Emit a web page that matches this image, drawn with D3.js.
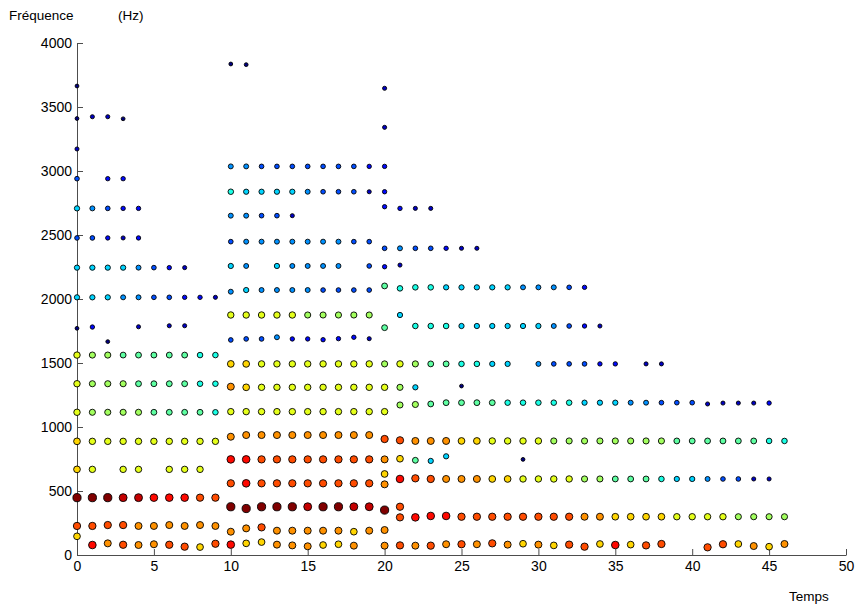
<!DOCTYPE html>
<html lang="fr">
<head>
<meta charset="UTF-8">
<title>Partiels : fréquence en fonction du temps</title>
<script src="https://d3js.org/d3.v7.min.js"></script>
<style>
  body { margin: 0; background: #fff; font-family: "Liberation Sans", Arial, sans-serif; }
  .axis text { font-size: 14px; fill: #000; font-family: "Liberation Sans", Arial, sans-serif; }
  .axis path, .axis line { stroke: #4d4d4d; }
  .label { font-size: 13.5px; fill: #000; }
</style>
</head>
<body>
<svg width="858" height="606"></svg>
<script>
// tick labels
const xTicks = [0, 5, 10, 15, 20, 25, 30, 35, 40, 45, 50];
const yTicks = [0, 500, 1000, 1500, 2000, 2500, 3000, 3500, 4000];

// one entry per partial: first frame, frequency (Hz, one value or one per frame),
// amplitude level per frame (0 = weak ... 15 = strong), null = no peak in that frame
const partialStart = [
  0, 0, 0, 0, 0, 0, 0, 0, 0, 2, 0, 0, 0, 0, 0, 0, 0, 0, 1,
  10, 10, 10, 10, 10, 10, 10, 10, 10, 10, 10, 25, 10, 10, 10, 29, 10, 20, 10, 10, 10,
  20, 20, 20, 20, 20, 20, 21, 21, 21
];

const partialFreq = [
  3664,
  [3410, 3424, 3424, 3408],
  3172,
  2940,
  2708,
  2477,
  2245,
  2013,
  [1771, 1781, null, null, 1783, null, 1791, 1791],
  1667,
  1562,
  1338,
  1115,
  888,
  669,
  448,
  [227, 227, 234, 234, 227, 227, 234, 227, 234, 227],
  146,
  [78, 91, 80, 78, 84, 80, 65, 62, 88],
  // from frame 10
  [3836, 3831],
  3036,
  2838,
  2651,
  2448,
  [2258, 2258, null, 2258, 2258, 2258, 2258, 2258, null, 2258, 2252, 2265],
  [2057, 2070, 2070, 2070, 2070, 2070, 2070, 2070, 2070, 2070],
  1875,
  [1680, 1688, 1688, 1701, 1688, 1688, 1682, 1690, 1701, 1690],
  1493,
  [1315, 1310, 1310, 1310, 1310, 1310, 1310, 1310, 1310, 1310, 1310, 1310, 1310],
  1320,
  1120,
  [924, 937, 937, 937, 937, 937, 937, 937, 937, 937, 906, 896,
   891, 891, 891, 891, 891, 891, 891, 891, 891, 891, 891, 891, 891,
   891, 891, 891, 891, 891, 891, 891, 891, 891, 891, 891, 891],
  [747, 747, 747, 747, 747, 747, 747, 747, 747, 747, 747, 752, 740, 735, 771],
  747,
  [560, 560, 560, 560, 560, 560, 560, 560, 560, 560, 552],
  633,
  [377, 363, 377, 377, 377, 377, 377, 377, 377, 377, 351, 377],
  [182, 208, 216, 190, 190, 190, 190, 190, 182, 190, 195],
  [81, 91, 101, 81, 75, 68, 78, 84, 73, null, 73, 75, 73, 73, 84, 84, 84, 91, 81, 88,
   81, 75, 81, 65, 86, 78, 81, 75, 86, null, null, 60, 84, 86, 70, 65, 86],
  // from frame 20
  3646,
  3341,
  [2721, 2708, 2708, 2708],
  2396,
  [2102, 2083, 2091, 2091, 2091, 2091, 2091, 2091, 2091, 2091, 2091, 2091, 2091, 2091],
  [1776, null, 1789, 1789, 1789, 1789, 1789, 1789, 1789, 1789, 1789, 1789, 1789, 1789, 1789],
  [1172, 1176, 1180, 1190, 1190, 1190, 1190, 1190, 1190, 1190, 1190, 1190, 1190,
   1190, 1190, 1190, 1190, 1190, 1190, 1190, 1180, 1187, 1187, 1187, 1187],
  [594, 599, 594, 594, 594, 594, 594, 594, 594, 594, 594, 594, 594,
   594, 594, 594, 594, 594, 594, 594, 594, 594, 594, 594, 594],
  [294, 294, 305, 305, 299, 299, 299, 299, 299, 299, 299, 299, 299,
   299, 299, 299, 299, 299, 299, 299, 299, 299, 299, 299, 299, 299]
];

const partialAmp = [
  [0],
  [0, 1, 1, 0],
  [1],
  [3, null, 2, 2],
  [5, 4, 3, 2, 2],
  [3, 3, 2, 1, 2],
  [5, 5, 5, 5, 4, 3, 2, 1],
  [5, 5, 5, 4, 4, 3, 3, 2, 2, 1],
  [0, 2, null, null, 1, null, 1, 1],
  [0],
  [9, 8, 8, 7, 7, 7, 7, 7, 6, 6],
  [9, 8, 8, 8, 7, 7, 7, 7, 6, 6],
  [9, 8, 8, 8, 8, 7, 7, 7, 7, 6],
  [10, 9, 9, 9, 9, 9, 9, 9, 9, 9],
  [10, 9, null, 9, 9, null, 9, 9, 9],
  [15, 15, 15, 14, 14, 13, 13, 13, 12, 12],
  [12, 12, 12, 12, 11, 11, 11, 11, 11, 11],
  [10],
  [13, 11, 12, 11, 11, 12, 12, 10, 12],
  // from frame 10
  [0, 0],
  [4, 4, 3, 3, 3, 3, 3, 3, 3, 2, 2],
  [6, 5, 5, 5, 5, 4, 3, 3, 3, 1, 2],
  [4, 4, 3, 3, 1],
  [3, 4, 4, 4, 4, 4, 4, 4, 3, 3],
  [5, 4, null, 5, 4, 4, 4, 4, null, 3, 2, 1],
  [4, 5, 4, 4, 4, 4, 3, 3, 3, 3],
  [9, 9, 9, 9, 9, 8, 8, 8, 8, 8, null, 5],
  [3, 3, 3, 4, 2, 2, 2, 2, 2, 1],
  [10, 10, 9, 9, 9, 9, 9, 9, 9, 9, 8, 9, 8, 7, 7, 6, 6, 5, 5, null,
   4, 3, 3, 3, 2, 2, null, 1, 1],
  [11, 10, 9, 9, 9, 9, 9, 9, 9, 9, 9, 8, 5],
  [0],
  [9, 9, 9, 9, 9, 9, 9, 9, 9, 9, 9],
  [11, 11, 11, 11, 11, 11, 11, 11, 11, 11, 12, 12, 11, 11, 11, 10, 10, 9, 9, 9,
   9, 8, 8, 8, 8, 8, 8, 8, 8, 7, 7, 7, 7, 7, 7, 6, 6],
  [13, 13, 12, 12, 12, 12, 12, 12, 12, 12, 11, 10, 7, 5, 5],
  [0],
  [12, 13, 12, 12, 12, 12, 12, 12, 12, 12, 11],
  [10],
  [15, 15, 15, 15, 15, 14, 15, 15, 14, 14, 15, 12],
  [11, 11, 12, 11, 11, 11, 11, 11, 10, 11, 11],
  [13, 10, 10, 11, 11, 11, 10, 10, 11, null, 11, 12, 11, 12, 11, 12, 11, 12, 11, 10,
   11, 10, 12, 12, 10, 13, 10, 12, 12, null, null, 12, 12, 10, 11, 10, 11],
  // from frame 20
  [1],
  [1],
  [2, 2, 1, 1],
  [3, 4, 3, 3, 2, 1, 1],
  [7, 6, 6, 6, 5, 5, 5, 5, 5, 4, 4, 4, 3, 2],
  [7, null, 6, 6, 6, 5, 5, 5, 5, 5, 5, 4, 3, 2, 1],
  [8, 8, 7, 7, 7, 7, 7, 6, 6, 6, 6, 6, 5, 5, 5, 4, 4, 3, 3, 3, 1, 1, 1, 1, 2],
  [13, 12, 12, 11, 11, 11, 10, 10, 9, 9, 9, 9, 8, 8, 7, 7, 7, 6, 5, 5, 4, 3, 3, 1, 1],
  [12, 13, 13, 13, 12, 12, 12, 12, 12, 12, 12, 12, 11, 11, 10, 10, 10, 10, 9, 9,
   9, 9, 8, 8, 8, 8]
];

const svg = d3.select("svg"),
      margin = {top: 43, right: 12, bottom: 51, left: 77},
      width = +svg.attr("width") - margin.left - margin.right,
      height = +svg.attr("height") - margin.top - margin.bottom;

const g = svg.append("g").attr("transform", `translate(${margin.left},${margin.top})`);

const x = d3.scaleLinear().domain([0, 50]).range([0, width]);
const y = d3.scaleLinear().domain([0, 4000]).range([height, 0]);

// jet colormap on the amplitude level
const jet = d3.scaleLinear()
  .domain([0, 0.125, 0.375, 0.625, 0.875, 1])
  .range(["#000080", "#0000ff", "#00ffff", "#ffff00", "#ff0000", "#800000"]);
const color = d3.scaleLinear().domain([0, 15]).range([0, 1]);
const radius = d3.scaleLinear().domain([0, 15]).range([1.9, 4.1]);

const points = [];
partialStart.forEach((t0, i) => {
  const f = partialFreq[i];
  partialAmp[i].forEach((a, j) => {
    if (a === null) return;
    points.push({t: t0 + j, f: Array.isArray(f) ? f[j] : f, a: a});
  });
});

g.append("g")
  .attr("class", "axis")
  .attr("transform", `translate(0,${height})`)
  .call(d3.axisBottom(x).tickValues(xTicks).tickFormat(d3.format("d"))
    .tickSizeInner(-6).tickSizeOuter(0).tickPadding(6));

g.append("g")
  .attr("class", "axis")
  .call(d3.axisLeft(y).tickValues(yTicks).tickFormat(d3.format("d"))
    .tickSizeInner(-6).tickSizeOuter(0).tickPadding(5));

g.append("g")
  .selectAll("circle")
  .data(points)
  .join("circle")
    .attr("cx", d => x(d.t))
    .attr("cy", d => y(d.f))
    .attr("r", d => radius(d.a))
    .attr("fill", d => jet(color(d.a)))
    .attr("stroke", "#000")
    .attr("stroke-width", 0.9);

svg.append("text").attr("class", "label").attr("x", 9).attr("y", 20).text("Fréquence");
svg.append("text").attr("class", "label").attr("x", 118).attr("y", 20).text("(Hz)");
svg.append("text").attr("class", "label").attr("x", 789).attr("y", 601).text("Temps");
</script>
</body>
</html>
